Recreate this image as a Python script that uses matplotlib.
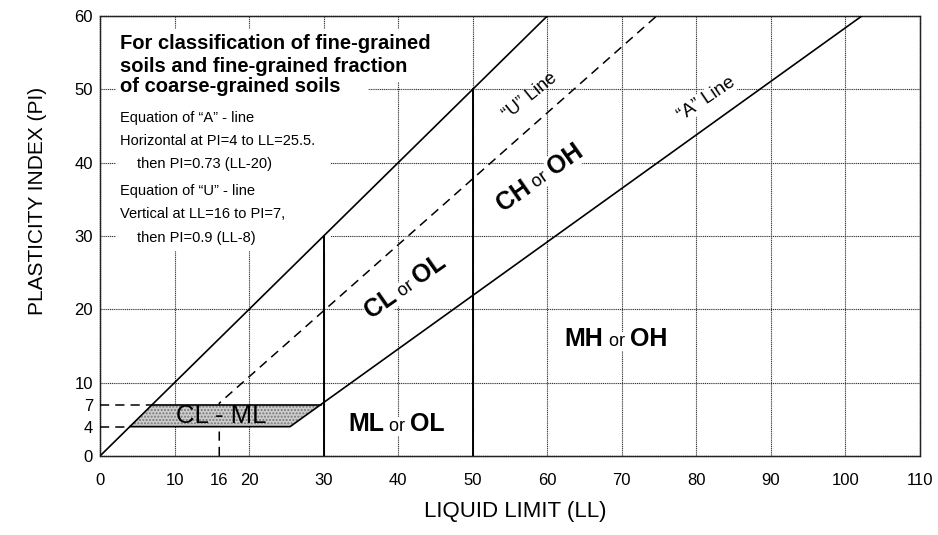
import matplotlib
matplotlib.use("Agg")
import matplotlib.pyplot as plt
from matplotlib.patches import Polygon, Rectangle
import numpy as np

plt.rcParams['font.family'] = ['Liberation Sans', 'DejaVu Sans']

# axis ticks
ll_ticks = [0, 10, 16, 20, 30, 40, 50, 60, 70, 80, 90, 100, 110]
pi_ticks = [0, 4, 7, 10, 20, 30, 40, 50, 60]
grid_ll = [10, 20, 30, 40, 50, 60, 70, 80, 90, 100]
grid_pi = [10, 20, 30, 40, 50]

# boundary lines (LL, PI)
upper_ll = [0, 60]
upper_pi = [0, 60]
a_ll = [4, 25.5, 102.2]
a_pi = [4, 4, 60]
u_ll = [16, 16, 74.67]
u_pi = [0, 7.2, 60]
ll30_ll = [30, 30]
ll30_pi = [0, 30]
ll50_ll = [50, 50]
ll50_pi = [0, 50]
pi4_ll = [0, 4]
pi4_pi = [4, 4]
pi7_ll = [0, 7]
pi7_pi = [7, 7]
clml_top_ll = [7, 29.6]
clml_top_pi = [7, 7]
clml_ll = [4, 25.5, 29.6, 7]
clml_pi = [4, 4, 7, 7]

fig = plt.figure(figsize=(9.38, 5.35), dpi=100)
ax = fig.add_axes([0.1066, 0.1477, 0.8742, 0.8224])
ax.set_xlim(0, 110)
ax.set_ylim(0, 60)

grid_style = dict(color='#333333', lw=0.8, linestyle=(0, (1, 0.7)), zorder=1)
ax.vlines(grid_ll, 0, 60, **grid_style)
ax.hlines(grid_pi, 0, 110, **grid_style)

# white area behind the note
for r in [Rectangle((2.2, 51.0), 40, 7.2), Rectangle((2.2, 48.4), 33.8, 2.8),
          Rectangle((2.2, 28.0), 28.8, 21.6)]:
    r.set_facecolor('white')
    r.set_edgecolor('none')
    r.set_zorder(2)
    ax.add_patch(r)

# CL-ML zone
ax.add_patch(Polygon(np.column_stack([clml_ll, clml_pi]), closed=True,
                     facecolor='#cdcdcd', edgecolor='#777777', hatch='.....',
                     lw=0, zorder=4))

line_kw = dict(color='black', lw=1.2, zorder=5)
ax.plot(upper_ll, upper_pi, **line_kw)
ax.plot(a_ll, a_pi, **line_kw)
ax.plot(clml_top_ll, clml_top_pi, **line_kw)
ax.plot(ll30_ll, ll30_pi, color='black', lw=1.4, zorder=3)
ax.plot(ll50_ll, ll50_pi, color='black', lw=1.4, zorder=3)
ax.plot(u_ll, u_pi, color='black', lw=1.1, dashes=(6, 4), zorder=3)
ax.plot(pi4_ll, pi4_pi, color='black', lw=1.1, dashes=(6, 4), zorder=3)
ax.plot(pi7_ll, pi7_pi, color='black', lw=1.1, dashes=(6, 4), zorder=3)

ax.set_xticks(ll_ticks)
ax.set_yticks(pi_ticks)
ax.tick_params(axis='x', length=0, pad=12, labelsize=12)
ax.tick_params(axis='y', length=0, pad=5, labelsize=12)
for s in ax.spines.values():
    s.set_linestyle((0, (1, 0.5)))
    s.set_color('#222222')
    s.set_linewidth(1.0)

ax.set_xlabel('LIQUID LIMIT (LL)', fontsize=16, va='center')
ax.xaxis.set_label_coords(0.507, -0.127)
ax.set_ylabel('PLASTICITY INDEX (PI)', fontsize=15, va='center')
ax.yaxis.set_label_coords(-0.0756, 0.58)

# note text
title_lines = ['For classification of fine-grained',
               'soils and fine-grained fraction',
               'of coarse-grained soils']
title_pi = [55.5, 52.4, 49.6]
for s, y in zip(title_lines, title_pi):
    ax.text(2.7, y, s, fontsize=14.5, fontweight='bold', va='baseline', zorder=6)

eq_lines = ['Equation of \u201cA\u201d - line',
            'Horizontal at PI=4 to LL=25.5.',
            'then PI=0.73 (LL-20)',
            'Equation of \u201cU\u201d - line',
            'Vertical at LL=16 to PI=7,',
            'then PI=0.9 (LL-8)']
eq_ll = [2.7, 2.7, 5.0, 2.7, 2.7, 5.0]
eq_pi = [45.5, 42.4, 39.3, 35.6, 32.5, 29.2]
for s, x, y in zip(eq_lines, eq_ll, eq_pi):
    ax.text(x, y, s, fontsize=10.5, va='baseline', zorder=6)

renderer = fig.canvas.get_renderer()


def zone_label(x, y, parts, angle=0):
    widths = []
    for s, size, weight in parts:
        t = ax.text(0, 0, s, fontsize=size, fontweight=weight)
        widths.append(t.get_window_extent(renderer).width)
        t.remove()
    a = np.radians(angle)
    off = -sum(widths) / 2
    for (s, size, weight), w in zip(parts, widths):
        ax.annotate(s, (x, y), xytext=(off * np.cos(a), off * np.sin(a)),
                    textcoords='offset pixels', rotation=angle,
                    rotation_mode='anchor', ha='left', va='baseline',
                    fontsize=size, fontweight=weight, zorder=6,
                    bbox=dict(facecolor='white', edgecolor='none', pad=0.5))
        off += w


zone_label(39.8, 3.4, [('ML', 18, 'bold'), (' or ', 13, 'normal'), ('OL', 18, 'bold')])
zone_label(69.2, 15.0, [('MH', 18, 'bold'), (' or ', 13, 'normal'), ('OH', 18, 'bold')])
zone_label(41.5, 22.4, [('CL', 18, 'bold'), (' or ', 13, 'normal'), ('OL', 18, 'bold')], 35)
zone_label(59.5, 37.2, [('CH', 18, 'bold'), (' or ', 13, 'normal'), ('OH', 18, 'bold')], 35)

ax.text(16.2, 4.5, 'CL - ML', fontsize=18.5, ha='center', va='baseline', zorder=6)
ax.text(58.1, 48.6, '\u201cU\u201d Line', fontsize=13, rotation=39,
        rotation_mode='anchor', ha='center', va='baseline', zorder=6)
ax.text(81.7, 48.2, '\u201cA\u201d Line', fontsize=13.5, rotation=34,
        rotation_mode='anchor', ha='center', va='baseline', zorder=6,
        bbox=dict(facecolor='white', edgecolor='none', pad=0.5))

fig.savefig('out.png', dpi=100)
